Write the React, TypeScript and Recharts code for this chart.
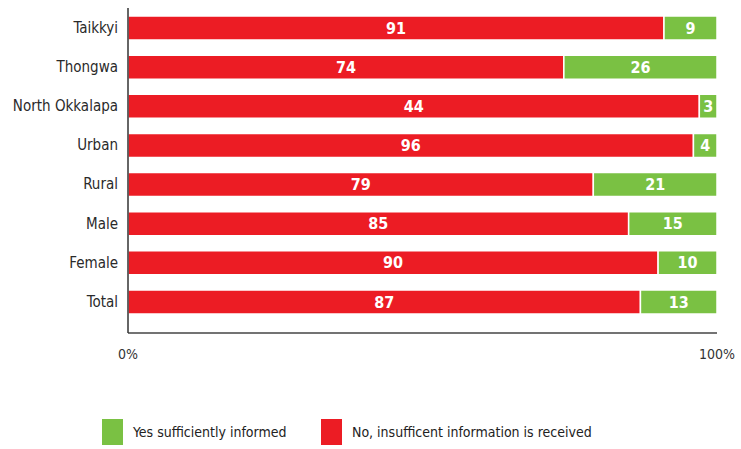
import {Bar, BarChart, LabelList, XAxis, YAxis} from 'recharts'
import {JSX} from 'react'

const CATEGORIES = ['Taikkyi', 'Thongwa', 'North Okkalapa', 'Urban', 'Rural', 'Male', 'Female', 'Total']
// bar lengths as drawn (the North Okkalapa bar is drawn at ~97 though its label says 44)
const NO_VALUES = [91, 74, 97, 96, 79, 85, 90, 87]
const NO_LABELS = ['91', '74', '44', '96', '79', '85', '90', '87']
const YES_VALUES = [9, 26, 3, 4, 21, 15, 10, 13]
const YES_LABELS = ['9', '26', '3', '4', '21', '15', '10', '13']
const X_TICKS = [0, 100]

const RED = '#ec1c24'
const GREEN = '#7ac143'
const FONT = "'Liberation Sans Narrow', 'DejaVu Sans Condensed', 'Arial Narrow', sans-serif"

const LEGEND = [
	{name: 'Yes sufficiently informed', color: GREEN, x: 102},
	{name: 'No, insufficent information is received', color: RED, x: 321},
]

const data = CATEGORIES.map((name, i) => ({
	name,
	no: NO_VALUES[i],
	yes: YES_VALUES[i],
	noLabel: NO_LABELS[i],
	yesLabel: YES_LABELS[i],
}))

const App = (): JSX.Element => {
	return (
		<div style={{position: 'fixed', left: 0, top: 0, width: 741, height: 449, background: '#fff', fontFamily: FONT}}>
			<BarChart
				width={741}
				height={449}
				data={data}
				layout='vertical'
				margin={{top: 8, right: 24, bottom: 0, left: 0}}
				barSize={24}
			>
				<XAxis
					type='number'
					domain={[0, 100]}
					ticks={X_TICKS}
					tickFormatter={(v) => `${v}%`}
					height={116}
					axisLine={{stroke: '#444', strokeWidth: 1.5}}
					tickLine={false}
					tickSize={0}
					tickMargin={16}
					tick={{fill: '#333', fontSize: 14, fontFamily: FONT}}
				/>
				<YAxis
					type='category'
					dataKey='name'
					width={128}
					padding={{top: 0, bottom: 12}}
					axisLine={{stroke: '#333', strokeWidth: 1.5}}
					tickLine={false}
					tickSize={0}
					tickMargin={10}
					tick={{fill: '#2a2a2a', fontSize: 15, fontFamily: FONT}}
				/>
				<Bar dataKey='no' stackId='a' fill={RED} stroke='#fff' strokeWidth={1.5} isAnimationActive={false}>
					<LabelList
						dataKey='noLabel'
						position='center'
						fill='#fff'
						style={{fontSize: 16, fontWeight: 700, fontFamily: FONT}}
					/>
				</Bar>
				<Bar dataKey='yes' stackId='a' fill={GREEN} stroke='#fff' strokeWidth={1.5} isAnimationActive={false}>
					<LabelList
						dataKey='yesLabel'
						position='center'
						fill='#fff'
						style={{fontSize: 16, fontWeight: 700, fontFamily: FONT}}
					/>
				</Bar>
			</BarChart>

			{/* legend */}
			{LEGEND.map((item) => (
				<div
					key={item.name}
					style={{position: 'absolute', left: item.x, top: 419, display: 'flex', alignItems: 'center', gap: 10}}
				>
					<div style={{width: 21, height: 26, background: item.color}} />
					<span style={{fontSize: 14, color: '#222'}}>{item.name}</span>
				</div>
			))}
		</div>
	)
}

export default App
